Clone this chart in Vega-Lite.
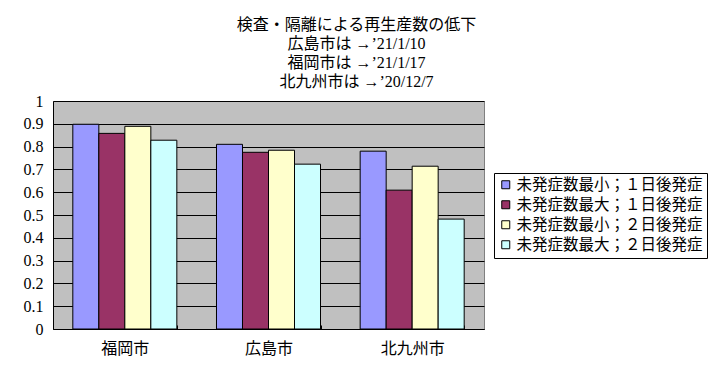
{
  "$schema": "https://vega.github.io/schema/vega-lite/v6.json",
  "autosize": {"type": "none"},
  "width": 431,
  "height": 228,
  "padding": {"left": 53, "top": 101, "right": 235, "bottom": 48},
  "background": "white",
  "title": {
    "text": ["検査・隔離による再生産数の低下", "広島市は →’21/1/10", "福岡市は →’21/1/17", "北九州市は →’20/12/7"],
    "font": "Liberation Serif, Noto Sans CJK JP",
    "fontSize": 16,
    "fontWeight": "normal",
    "lineHeight": 19,
    "color": "black",
    "anchor": "middle",
    "frame": "group",
    "dx": 88,
    "offset": 3
  },
  "data": {
    "values": [
      {"city": "福岡市", "series": "未発症数最小；１日後発症", "value": 0.898},
      {"city": "福岡市", "series": "未発症数最大；１日後発症", "value": 0.858},
      {"city": "福岡市", "series": "未発症数最小；２日後発症", "value": 0.889},
      {"city": "福岡市", "series": "未発症数最大；２日後発症", "value": 0.828},
      {"city": "広島市", "series": "未発症数最小；１日後発症", "value": 0.810},
      {"city": "広島市", "series": "未発症数最大；１日後発症", "value": 0.775},
      {"city": "広島市", "series": "未発症数最小；２日後発症", "value": 0.784},
      {"city": "広島市", "series": "未発症数最大；２日後発症", "value": 0.723},
      {"city": "北九州市", "series": "未発症数最小；１日後発症", "value": 0.780},
      {"city": "北九州市", "series": "未発症数最大；１日後発症", "value": 0.609},
      {"city": "北九州市", "series": "未発症数最小；２日後発症", "value": 0.714},
      {"city": "北九州市", "series": "未発症数最大；２日後発症", "value": 0.482}
    ]
  },
  "mark": {"type": "bar", "stroke": "black", "strokeWidth": 1},
  "encoding": {
    "x": {
      "field": "city",
      "type": "nominal",
      "sort": ["福岡市", "広島市", "北九州市"],
      "scale": {"paddingInner": 0.276, "paddingOuter": 0.138},
      "axis": {
        "title": null,
        "labelAngle": 0,
        "labelFont": "Noto Sans CJK JP",
        "labelFontSize": 16,
        "labelColor": "black",
        "labelPadding": 15,
        "domainColor": "black",
        "domainWidth": 1,
        "tickBand": "extent",
        "tickColor": "black",
        "tickSize": -4,
        "grid": false
      }
    },
    "xOffset": {
      "field": "series",
      "type": "nominal",
      "sort": ["未発症数最小；１日後発症", "未発症数最大；１日後発症", "未発症数最小；２日後発症", "未発症数最大；２日後発症"],
      "scale": {"paddingInner": 0, "paddingOuter": 0}
    },
    "y": {
      "field": "value",
      "type": "quantitative",
      "scale": {"domain": [0, 1], "nice": false},
      "axis": {
        "title": null,
        "values": [0, 0.1, 0.2, 0.3, 0.4, 0.5, 0.6, 0.7, 0.8, 0.9, 1],
        "format": "~g",
        "labelFont": "Liberation Serif",
        "labelFontSize": 16,
        "labelColor": "black",
        "labelPadding": 10,
        "ticks": false,
        "domainColor": "black",
        "grid": true,
        "gridColor": "black",
        "gridWidth": 1,
        "gridOpacity": 1
      }
    },
    "color": {
      "field": "series",
      "type": "nominal",
      "sort": ["未発症数最小；１日後発症", "未発症数最大；１日後発症", "未発症数最小；２日後発症", "未発症数最大；２日後発症"],
      "scale": {
        "domain": ["未発症数最小；１日後発症", "未発症数最大；１日後発症", "未発症数最小；２日後発症", "未発症数最大；２日後発症"],
        "range": ["#9999FF", "#993366", "#FFFFCC", "#CCFFFF"]
      },
      "legend": {
        "title": null,
        "orient": "none",
        "legendX": 441,
        "legendY": 72,
        "strokeColor": "black",
        "fillColor": "white",
        "padding": 4,
        "symbolType": "square",
        "symbolSize": 64,
        "symbolStrokeColor": "black",
        "symbolStrokeWidth": 1,
        "symbolOpacity": 1,
        "labelFont": "Noto Sans CJK JP",
        "labelFontSize": 15.5,
        "labelColor": "black",
        "labelLimit": 300,
        "rowPadding": 3,
        "labelOffset": 3
      }
    }
  },
  "config": {
    "view": {"fill": "#C0C0C0", "stroke": "#808080", "strokeWidth": 1},
    "axis": {"gridCap": "butt"}
  }
}
